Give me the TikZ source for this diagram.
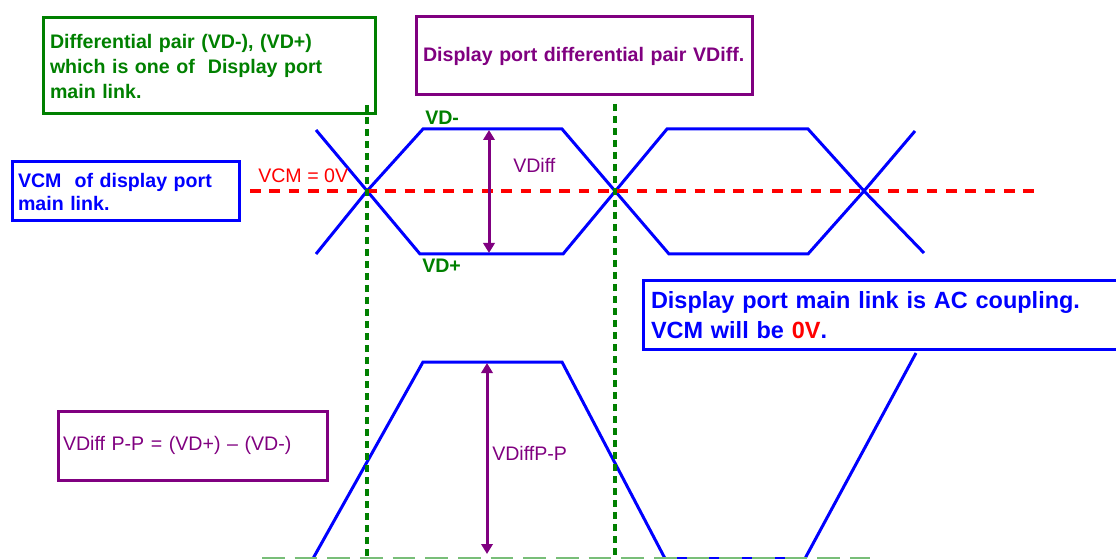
\documentclass[tikz,border=0pt]{standalone}
\usepackage{fontspec}
\setmainfont{Liberation Sans}
\usetikzlibrary{arrows.meta}
\definecolor{linkblue}{RGB}{0,0,255}
\definecolor{linkgreen}{RGB}{0,128,0}
\definecolor{linkpurple}{RGB}{128,0,128}
\definecolor{linkred}{RGB}{255,0,0}
\definecolor{gridgreen}{RGB}{120,190,120}
\tikzset{
  wave/.style={linkblue, line width=2.25pt},
  infobox/.style={draw, line width=2.25pt, align=left, inner ysep=0pt,
                  font=\bfseries\fontsize{14.7}{18.75}\selectfont},
  marker/.style={linkgreen, line width=2.6pt, dash pattern=on 5.5pt off 3.5pt},
  levelline/.style={linkred, line width=2.5pt, dash pattern=on 8pt off 6.5pt},
  span/.style={linkpurple, line width=2.25pt,
               {Triangle[length=7.5pt,width=8.5pt]}-{Triangle[length=7.5pt,width=8.5pt]}},
  tag/.style={anchor=base west, inner sep=0pt, font=\fontsize{14.7}{18}\selectfont},
}
\begin{document}
\begin{tikzpicture}[x=0.75pt, y=-0.75pt]
    \useasboundingbox (0,0) rectangle (1116,559);
    \clip (0,0) rectangle (1116,559);
    % Text boxes
    \node[infobox, linkgreen, minimum width=249pt, minimum height=72pt,
          inner xsep=5.25pt, text width=238.5pt] (pairbox) at (209,66)
        {Differential pair (VD-), (VD+)\\which is one of~ Display port\\main link.};
    \node[infobox, linkpurple, minimum width=252pt, minimum height=58.5pt,
          inner xsep=5.25pt, text width=241.5pt] (vdiffbox) at (584,56)
        {Display port differential pair VDiff.};
    \node[infobox, linkblue, minimum width=170.25pt, minimum height=44.25pt,
          inner xsep=4.5pt, text width=161.25pt,
          font=\bfseries\fontsize{14.7}{17.25}\selectfont] (vcmbox) at (125.5,191.5)
        {VCM~ of display port\\main link.};
    \node[infobox, linkblue, minimum width=372.75pt, minimum height=51pt,
          inner xsep=6pt, text width=360.75pt,
          font=\bfseries\fontsize{17.6}{22.5}\selectfont] (acbox) at (891.5,315)
        {Display port main link is AC coupling.\\VCM will be \textcolor{linkred}{0V}.};
    \node[infobox, linkpurple, minimum width=201.75pt, minimum height=51.75pt,
          inner xsep=3.75pt, text width=194.25pt,
          font=\fontsize{14.7}{18}\selectfont] (ppbox) at (192.5,445.5)
        {VDiff P-P = (VD+) – (VD-)};
    % Differential pair (eye)
    \draw[wave] (316,130) -- (420,254) -- (563,254) -- (667,129)
                -- (808,129) -- (864,191) -- (924,253);
    \draw[wave] (316,254) -- (367,191) -- (423,129) -- (562,129)
                -- (615,191) -- (669,254) -- (808,254) -- (864,191) -- (915,131);
    % Peak-to-peak waveform
    \draw[wave] (313,558.5) -- (423,362) -- (562,362) -- (665,558.5)
                -- (805,558.5) -- (916,353);
    % Common mode level
    \draw[levelline] (250,191) -- (1042,191);
    % Amplitudes
    \coordinate (vdtop) at (489,130);
    \coordinate (vdbot) at (489,253);
    \coordinate (pptop) at (487,363);
    \coordinate (ppbot) at (487,554);
    \draw[span] (vdtop) -- (vdbot);
    \draw[span] (pptop) -- (ppbot);
    % Crossing markers
    \draw[gridgreen, line width=2.25pt, dash pattern=on 17pt off 7.5pt] (262,558.5) -- (870,558.5);
    \foreach \x/\y in {367/105, 615/104} {
        \draw[marker] (\x,\y) -- (\x,559);
    }
    % Labels
    \node[tag, linkgreen, font=\bfseries\fontsize{14.7}{18}\selectfont] (vdminus) at (425,125) {VD-};
    \node[tag, linkgreen, font=\bfseries\fontsize{14.7}{18}\selectfont] (vdplus) at (422,273) {VD+};
    \node[tag, linkred] (vcmlabel) at (258,183) {VCM = 0V};
    \node[tag, linkpurple] (vdifflabel) at (513,173) {VDiff};
    \node[tag, linkpurple] (pplabel) at (492,460) {VDiffP-P};
\end{tikzpicture}
\end{document}
